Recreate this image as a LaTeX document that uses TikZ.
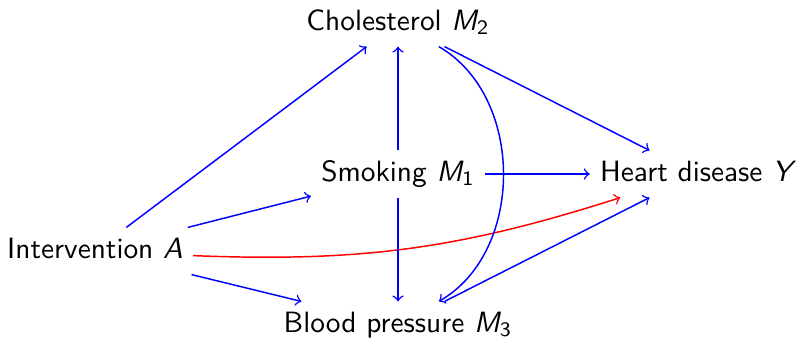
\documentclass[tikz,border=0pt]{standalone}
\usetikzlibrary{arrows}
\newcommand{\vM}[1]{$\textit{M}_{\mathsf{#1}}$}
\begin{document}
\begin{tikzpicture}[x=0.3407pt,y=-0.3407pt, font=\sffamily, >=to,
  lbl/.style={text height=7pt,text depth=2pt},
  blueedge/.style={->,blue,line width=0.5pt},
  rededge/.style={->,red,line width=0.5pt}]
\useasboundingbox (0,0) rectangle (798,337);
\node[lbl] (A) at (95,251) {Intervention $\textit{A}$};
\node[lbl] (M1) at (398,174) {Smoking \vM{1}};
\node[lbl] (M2) at (398,23) {Cholesterol \vM{2}};
\node[lbl] (M3) at (398,325) {Blood pressure \vM{3}};
\node[lbl] (Y) at (696,174) {Heart disease $\textit{Y}$};
\draw[blueedge] (A) -- (M2);
\draw[blueedge] (A) -- (M1);
\draw[blueedge] (A) -- (M3);
\draw[rededge] (A) to[bend right=10] (Y);
\draw[blueedge] (M1) -- (M2);
\draw[blueedge] (M1) -- (M3);
\draw[blueedge] (M1) -- (Y);
\draw[blueedge] (M2) -- (Y);
\draw[blueedge] (M2) to[bend left=60] (M3);
\draw[blueedge] (M3) -- (Y);
\end{tikzpicture}
\end{document}
